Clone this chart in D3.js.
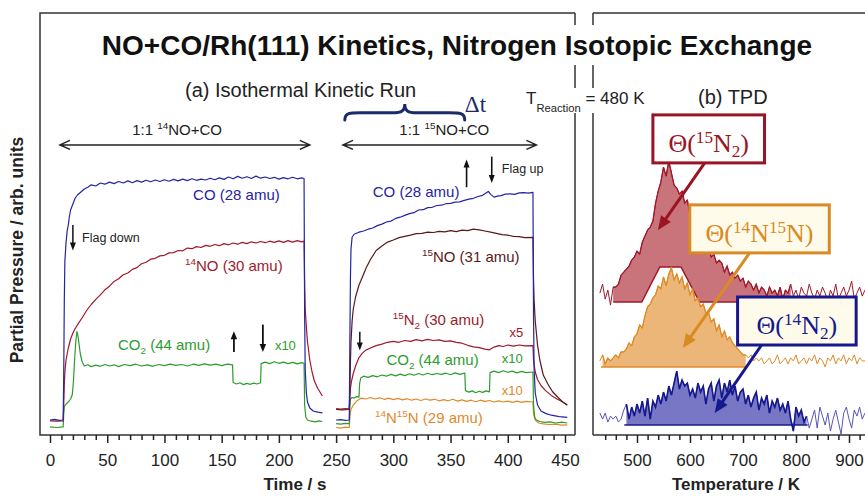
<!DOCTYPE html>
<html>
<head>
<meta charset="utf-8">
<script src="https://cdn.jsdelivr.net/npm/d3@7"></script>
<style>
  body { margin: 0; background: #fff; }
  text { font-family: "Liberation Sans", Arial, sans-serif; fill: #222; }
</style>
</head>
<body>
<div id="chart"></div>
<script>
const width = 865, height = 496;

// ---- (a) isothermal kinetic run : [time / s, signal]
const coRun1 = [[0,5],[4,5.2],[8,4.9],[11.5,5],[12,20],[12.5,45],[13,58],[14,64],[15,68],[16,70],[17,73],[18,75],[20,77],[22,79],[24,80],[27,81],[30,82],[33,82.6],[36,83.4],[40,83],[44,84],[48,83.6],[52,84.3],[56,83.8],[60,84.5],[64,84],[68,84.7],[72,84.1],[76,84.8],[80,84.3],[84,84.9],[88,84.4],[92,85],[96,84.5],[100,85.1],[104,84.6],[108,85.2],[112,84.7],[116,85.3],[120,84.8],[124,85.4],[128,84.9],[132,85.3],[136,85],[140,85.6],[144,85.1],[148,85.7],[152,85.2],[156,86],[160,85.4],[164,86.2],[168,85.6],[172,86.1],[176,85.5],[180,86.3],[184,85.6],[188,86],[192,85.5],[196,85.9],[200,85.3],[204,85.8],[208,85.4],[212,85.9],[216,85.4],[220,85.7],[222,85.5],[222.5,40],[223,22],[224,14],[225,11],[227,9],[230,8],[234,7.6],[238,7.4]];
const no14Run1 = [[0,4.7],[6,4.6],[11.5,4.7],[12,10],[12.5,17],[13,21],[14,25],[15,27],[16,29],[18,32],[20,34],[22,35.5],[25,37.3],[28,39],[32,41.5],[36,43.5],[40,45.2],[44,46.7],[48,48.4],[52,49.6],[56,51.2],[60,52.1],[64,53.4],[68,54],[72,55.2],[76,55.8],[80,57.1],[84,57.6],[88,58.6],[92,58.9],[96,59.7],[100,59.9],[104,60.7],[108,60.8],[112,61.5],[116,61.4],[120,62.3],[124,62.1],[128,62.8],[132,62.5],[136,63.2],[140,62.9],[144,63.5],[148,63.1],[152,63.8],[156,63.4],[160,64],[164,63.6],[168,64.2],[172,63.8],[176,64.4],[180,64],[184,64.5],[188,64.1],[192,64.6],[196,64.2],[200,64.7],[204,64.2],[208,64.8],[212,64.3],[216,64.8],[220,64.4],[222,64.6],[222.5,50],[223,42],[224,36],[225,31],[227,25],[229,21],[231,18],[234,15.5],[238,13]];
const co2Run1 = [[0,2.7],[6,2.5],[11.5,2.7],[12,7],[12.5,9.5],[14,10.3],[16,11],[18,12],[19.5,13.5],[20.5,18],[21.5,25],[22.5,31],[23.5,34.5],[24.5,33],[25.5,30],[26.5,27],[28,24.5],[30,23],[33,23.4],[36,22.8],[40,23.3],[44,22.9],[48,23.5],[52,23],[56,23.4],[60,22.8],[65,23.5],[70,23.1],[75,23.6],[80,23],[85,23.4],[90,22.9],[95,23.5],[100,23.1],[105,23.6],[110,23.2],[115,23.5],[120,23],[125,23.6],[130,23.2],[135,23.7],[140,23.3],[145,23.6],[150,23.1],[155,23.6],[159.5,23.4],[160,17.5],[163,17],[166,17.4],[169,16.8],[172,17.2],[175,16.9],[178,17.3],[181,17],[184,17.4],[184.5,23.8],[188,24.3],[192,23.8],[196,24.4],[200,23.9],[204,24.3],[208,23.8],[212,24.2],[216,23.7],[220,24.1],[222,23.9],[222.5,10],[223.5,6],[225,5],[228,4.6],[232,4.4],[235,4.7],[238,4.5]];

const coRun2 = [[250,5],[254,5.1],[258,4.9],[261.5,5],[262,30],[262.5,52],[263,62],[264,66],[266,67],[270,67.6],[274,68],[278,68.6],[282,69],[286,69.8],[290,70.3],[294,71],[298,71.3],[302,72.2],[306,72.6],[310,73.2],[314,73.8],[318,74.1],[322,75],[326,75.1],[330,75.8],[334,75.9],[338,76.5],[342,76.6],[346,77.1],[350,77.2],[354,77.6],[358,77.7],[362,78.2],[366,78.6],[370,78.9],[374,79.5],[378,79.9],[381,80.7],[383,81.2],[385,80.2],[388,79.3],[391,79.6],[394,79.8],[398,80.3],[402,80.4],[406,80.2],[410,80.7],[414,80.8],[418,80.6],[422,80.9],[422.5,40],[423,22],[424,14],[426,10],[429,8],[433,7.2],[438,6.6],[445,6.1],[452,5.9]];
const no15Run2 = [[250,8.5],[255,8.4],[261.5,8.5],[262,15],[262.5,24],[263,31],[264,38],[265,42],[267,46],[270,50],[273,52.7],[276,55.5],[280,58.5],[285,61.5],[290,63],[295,64.3],[300,65],[305,65.8],[310,66.2],[315,66.6],[320,67.1],[325,67.2],[330,67.6],[335,67.5],[340,67.9],[345,67.7],[350,68.1],[355,67.8],[360,68.3],[365,68.1],[370,68.6],[375,68.4],[380,68],[385,67.6],[390,67.2],[395,66.8],[400,66.6],[405,66.2],[410,66.1],[415,65.8],[422,65.9],[422.5,52],[423,45],[424,38],[426,30],[428,25],[431,20],[435,17],[439,14.5],[444,12.5],[448,11],[452,10]];
const n15n2Run2 = [[250,8.8],[254,8.6],[258,8.8],[261.5,8.7],[262,12],[262.5,15.5],[263.5,18],[265,20.5],[267,23],[270,25.8],[273,27.3],[276,28.3],[280,29],[285,29.8],[290,30.3],[295,30.9],[300,31.2],[305,30.9],[310,31.5],[315,31.2],[320,31.8],[325,31.4],[330,31.9],[335,31.5],[340,31.7],[345,31.2],[350,31.4],[355,30.9],[360,30.6],[365,29.9],[370,29.4],[375,29.1],[380,28.6],[384,28.4],[388,29.3],[392,29.8],[396,29.5],[400,30],[405,29.6],[410,30],[415,29.7],[422,29.8],[422.5,25],[424,21],[426,18.5],[429,16.5],[433,14.8],[438,13.2],[443,12],[448,11],[452,10]];
const co2Run2 = [[250,3.8],[254,3.6],[258,3.9],[261.5,3.8],[262,9],[262.5,12],[264,12.5],[266,12.3],[268,12.8],[270,12.6],[270.5,17],[271.5,19],[274,19.6],[278,19.2],[282,19.8],[286,19.4],[290,20],[294,19.6],[298,20.2],[302,19.7],[306,20.3],[310,19.8],[314,20.4],[318,19.9],[322,20.5],[326,20],[330,20.6],[334,20.1],[338,20.5],[342,20.2],[346,20.6],[350,20.1],[354,20.7],[358,20.2],[362.5,20.6],[363,14.8],[366,14.3],[369,14.7],[372,14.1],[375,14.6],[378,14.2],[381,14.7],[384,14.4],[384.5,20.8],[388,21.3],[392,20.8],[396,21.4],[400,20.9],[404,21.3],[408,20.7],[412,21.2],[416,20.8],[422,21],[422.5,10],[423.5,6],[425,5],[428,4.5],[432,4.2],[437,4.4],[442,4],[447,4.3],[452,4]];
const n14n15Run2 = [[250,2.5],[254,2.3],[258,2.6],[261.5,2.5],[262,6],[263,8.5],[265,10],[268,11.3],[272,12.3],[276,12],[280,12.5],[284,12],[288,12.4],[292,11.9],[296,12.3],[300,11.8],[304,12.2],[308,11.7],[312,12.1],[316,11.6],[320,12],[324,11.5],[328,12],[332,11.6],[336,11.9],[340,11.4],[344,11.8],[348,11.4],[352,11.9],[356,11.3],[360,11.7],[364,11.2],[368,11.6],[372,11.1],[376,11.6],[380,11.2],[384,11.5],[388,11],[392,11.4],[396,11],[400,11.3],[404,10.9],[408,11.3],[412,10.9],[416,11.2],[422,11],[422.5,7],[424,5],[427,4],[431,3.7],[436,3.5],[442,3.6],[447,3.3],[452,3.4]];

// ---- (b) TPD, sampled every 5 K from 430 K
const tpdTemps = d3.range(430, 931, 5);
const tpd15N2 = [3,6,1,4,-1,5,5,6,9,10, 11,12,14,15,17,16,20,22,24,25, 27,33,37,40,45,42,47,43,39,38, 36,37,33,34,29,31,26,24,22,21, 18,19,15,16,13,14,13,10,12,9, 10,8,9,7,8,5,7,6,4,6, 3,5,4,2,5,3,4,2,5,1, 4,3,6,2,4,1,5,3,2,6, 3,1,4,2,5,3,0,4,2,6, 1,3,5,2,4,7,1,3,5,2, 4];
const tpd14N15N = [2,4,1,3,2,3,4,3,5,5, 6,8,7,10,11,14,13,17,20,21, 23,24,27,26,30,27,31,33,29,31, 28,30,26,28,24,26,22,23,20,21, 18,18,15,16,12,14,10,12,9,10, 8,7,6,5,4,4,3,4,2,3, 2,3,1,2,3,1,2,4,1,2, 3,1,3,2,4,1,2,3,1,3, 2,4,1,3,2,0,3,2,4,1, 3,2,4,1,3,2,4,1,3,2, 2];
const tpd14N2 = [4,2,4,1,3,2,3,1,2,5, 7,2,6,3,7,4,8,3,9,2, 8,6,10,7,11,8,13,10,14,18, 12,15,13,14,10,12,9,14,11,13, 7,12,14,8,13,15,9,14,11,15, 10,13,8,11,12,7,10,6,9,11, 5,9,7,10,4,8,6,9,5,7, 4,8,2,-2,6,3,5,1,3,-1, 2,5,-1,6,3,0,4,-2,2,5, 1,-3,4,6,2,-1,5,3,6,2, 4];

const timeMajor = d3.range(0, 451, 50);
const tempMajor = d3.range(500, 901, 100);

const svg = d3.select("#chart").append("svg")
    .attr("width", width).attr("height", height)
    .style("background", "#fff");

const xK = d3.scaleLinear().domain([0, 450]).range([50, 565]);
const xT = d3.scaleLinear().domain([500, 900]).range([637, 849]);
const y = d3.scaleLinear().domain([0, 100]).range([435, 135]);

const C = {
    blue: "#2424a4", red: "#a0192b", brown: "#5a1818", green: "#2c9c2c", orange: "#df8a28",
    navy: "#16188e", boxRed: "#9a1422", boxOrange: "#d98a22"
};

// frames (gaps where the title / T_reaction pass between the panels)
const frame = svg.append("g").attr("fill", "none").attr("stroke", "#333").attr("stroke-width", 1.5);
frame.append("path").attr("d", "M575,13H40V435H575M593,13H866M593,435H866");
[[13, 25], [65, 88], [113, 435]].forEach(([a, b]) => {
    frame.append("path").attr("d", `M575,${a}V${b}M593,${a}V${b}`);
});

// axes
function bottomAxis(scale, values, major, fmt) {
    const g = svg.append("g").attr("transform", "translate(0,435)")
        .call(d3.axisBottom(scale).tickValues(values).tickSize(5).tickFormat(d => major.includes(d) ? fmt(d) : ""));
    g.select(".domain").remove();
    g.selectAll(".tick line").attr("stroke", "#222").attr("stroke-width", 1.5)
        .attr("y2", d => major.includes(d) ? 8 : 5);
    g.selectAll(".tick text").attr("y", 31).attr("dy", null)
        .attr("font-size", 17).attr("font-family", "Liberation Sans, Arial, sans-serif").attr("fill", "#222");
}
bottomAxis(xK, d3.range(0, 451, 10), timeMajor, d => d);
bottomAxis(xT, d3.range(440, 921, 20), tempMajor, d => d);

// helper for text with super/subscripts
function rich(g, x, yy, segs, size, color, family) {
    const t = g.append("text").attr("x", x).attr("y", yy).attr("font-size", size)
        .style("fill", color || "#222");
    if (family) t.style("font-family", family);
    let shift = 0;
    segs.forEach(([str, kind, off]) => {
        const target = kind === "sup" ? -(off || 0.4 * size) : kind === "sub" ? (off || 0.28 * size) : 0;
        t.append("tspan").attr("dy", target - shift).attr("font-size", kind ? size * 0.66 : size).text(str);
        shift = target;
    });
    return t;
}

function arrow(g, x1, y1, x2, y2, color, w, hl, hw) {
    const a = Math.atan2(y2 - y1, x2 - x1);
    const bx = x2 - hl * Math.cos(a), by = y2 - hl * Math.sin(a);
    const px = -Math.sin(a) * hw / 2, py = Math.cos(a) * hw / 2;
    g.append("line").attr("x1", x1).attr("y1", y1).attr("x2", bx + Math.cos(a)).attr("y2", by + Math.sin(a))
        .attr("stroke", color).attr("stroke-width", w);
    g.append("path").attr("d", `M${x2},${y2}L${bx + px},${by + py}L${bx - px},${by - py}Z`).attr("fill", color);
}

// ---- kinetic traces
const gK = svg.append("g");
const kLine = d3.line().x(d => xK(d[0])).y(d => y(d[1]));
const kineticSeries = [
    { data: co2Run1, color: C.green }, { data: no14Run1, color: C.red }, { data: coRun1, color: C.blue },
    { data: n14n15Run2, color: C.orange }, { data: co2Run2, color: C.green }, { data: n15n2Run2, color: C.red },
    { data: no15Run2, color: C.brown }, { data: coRun2, color: C.blue }
];
kineticSeries.forEach(s => {
    gK.append("path").attr("d", kLine(s.data)).attr("fill", "none")
        .attr("stroke", s.color).attr("stroke-width", 1.2).attr("stroke-linejoin", "round");
});

// labels in panel (a)
rich(gK, xK(125), y(78.3), [["CO (28 amu)"]], 15, C.blue);
rich(gK, xK(118), y(54.7), [["14", "sup"], ["NO (30 amu)"]], 15, C.red);
rich(gK, xK(59.4), y(28.3), [["CO"], ["2", "sub"], [" (44 amu)"]], 15, C.green);
rich(gK, xK(196.5), y(28.3), [["x10"]], 13, C.green);
rich(gK, xK(282), y(79.3), [["CO (28 amu)"]], 15, C.blue);
rich(gK, xK(325), y(57.7), [["15", "sup"], ["NO (31 amu)"]], 15, C.brown);
rich(gK, xK(299.5), y(36.7), [["15", "sup"], ["N"], ["2", "sub"], [" (30 amu)"]], 15, C.red);
rich(gK, xK(401.5), y(32.7), [["x5"]], 13, C.red);
rich(gK, xK(294), y(23.3), [["CO"], ["2", "sub"], [" (44 amu)"]], 15, C.green);
rich(gK, xK(394.8), y(24), [["x10"]], 13, C.green);
rich(gK, xK(394.8), y(13.3), [["x10"]], 13, C.orange);
rich(gK, xK(284), y(4), [["14", "sup"], ["N"], ["15", "sup"], ["N (29 amu)"]], 15, C.orange);

// flag arrows
arrow(gK, xK(20), y(70), xK(20), y(61.5), "#111", 1.5, 8, 6);
rich(gK, xK(28), y(64.3), [["Flag down"]], 12.5);
arrow(gK, xK(160.7), y(27.7), xK(160.7), y(34.6), "#111", 1.8, 8, 6.5);
arrow(gK, xK(186), y(36.8), xK(186), y(27.7), "#111", 1.8, 8, 6.5);
arrow(gK, xK(270.7), y(34.4), xK(270.7), y(28.2), "#111", 1.5, 8, 6);
arrow(gK, xK(364), y(82.6), xK(364), y(91.8), "#111", 1.6, 8, 6);
arrow(gK, xK(386), y(92.8), xK(386), y(84), "#111", 1.6, 8, 6);
rich(gK, xK(394.8), y(87.3), [["Flag up"]], 12.5);

// gas-exposure double arrows
function dblArrow(g, t1, t2, v) {
    const x1 = xK(t1), x2 = xK(t2), yy = y(v);
    g.append("path").attr("d", `M${x1},${yy}H${x2}M${x1 + 10},${yy - 4.5}L${x1},${yy}L${x1 + 10},${yy + 4.5}M${x2 - 10},${yy - 4.5}L${x2},${yy}L${x2 - 10},${yy + 4.5}`)
        .attr("fill", "none").attr("stroke", "#222").attr("stroke-width", 1.5);
}
dblArrow(gK, 8.7, 227, 96.7);
dblArrow(gK, 256, 425, 96.7);
rich(gK, xK(111), y(100), [["1:1 "], ["14", "sup", 6], ["NO+CO"]], 15).attr("text-anchor", "middle");
rich(gK, xK(344.5), y(100), [["1:1 "], ["15", "sup", 6], ["NO+CO"]], 15).attr("text-anchor", "middle");

// brace + delta t
const bx0 = xK(257.6), bx1 = xK(362.4), bxm = (bx0 + bx1) / 2;
const byEnd = y(105), byMid = y(107.4), byTip = y(110.3);
gK.append("path")
    .attr("d", `M${bx0},${byEnd}C${bx0},${byMid - 1} ${bx0 + 6},${byMid} ${bx0 + 22},${byMid}L${bxm - 12},${byMid}C${bxm - 3},${byMid} ${bxm},${byMid - 2} ${bxm},${byTip}C${bxm},${byMid - 2} ${bxm + 3},${byMid} ${bxm + 12},${byMid}L${bx1 - 22},${byMid}C${bx1 - 6},${byMid} ${bx1},${byMid - 1} ${bx1},${byEnd}`)
    .attr("fill", "none").attr("stroke", "#1b2a6b").attr("stroke-width", 3).attr("stroke-linecap", "round");
rich(gK, xK(362.5), y(107.7), [["Δt"]], 23, "#1b2a6b", "Liberation Serif, Times New Roman, serif");

// ---- TPD traces
const gT = svg.append("g");
const tpd = tpdTemps.map((T, i) => ({ T, r: tpd15N2[i], o: tpd14N15N[i], b: tpd14N2[i] }));
const tpdLayout = [
    { key: "r", offset: 44.3, from: 455, to: 790, line: C.red, thin: C.red, fill: "#c9737b" },
    { key: "o", offset: 22.7, from: 432, to: 708, line: C.orange, thin: C.orange, fill: "#ebb677" },
    { key: "b", offset: 3.3, from: 476, to: 822, line: C.navy, thin: "#5656b8", fill: "#7777c6" }
];
const notch = [[509, 0], [543, 11.7], [583, 11.7], [618, 0]];

tpdLayout.forEach(L => {
    const inFill = tpd.filter(d => d.T >= L.from && d.T <= L.to);
    gT.append("path")
        .attr("d", d3.area().x(d => xT(d.T)).y0(y(L.offset)).y1(d => y(L.offset + Math.max(0, d[L.key])))(inFill))
        .attr("fill", L.fill);
    gT.append("path").attr("d", d3.line().x(d => xT(d.T)).y(d => y(L.offset + d[L.key]))(tpd))
        .attr("fill", "none").attr("stroke", L.thin).attr("stroke-width", 1);
    gT.append("path").attr("d", d3.line().x(d => xT(d.T)).y(d => y(L.offset + d[L.key]))(inFill))
        .attr("fill", "none").attr("stroke", L.line).attr("stroke-width", L.key === "b" ? 1.6 : 1.2);
    if (L.key === "r") {
        gT.append("path").attr("d", d3.line().x(d => xT(d[0])).y(d => y(L.offset + d[1]))(notch) + "Z")
            .attr("fill", "#fff");
        const outline = [[L.from, 0], ...notch, [L.to, 0]];
        gT.append("path").attr("d", d3.line().x(d => xT(d[0])).y(d => y(L.offset + d[1]))(outline))
            .attr("fill", "none").attr("stroke", L.line).attr("stroke-width", 1.5);
    } else {
        gT.append("path").attr("d", `M${xT(L.from)},${y(L.offset)}H${xT(L.to)}`)
            .attr("stroke", L.line).attr("stroke-width", 1.5);
    }
});

// labelled boxes with arrows
const serif = "Liberation Serif, Times New Roman, serif";
function labelBox(t0, t1, v0, v1, stroke, fill, segs) {
    const x0 = xT(t0), x1 = xT(t1), y0 = y(v0), y1 = y(v1);
    gT.append("rect").attr("x", x0).attr("y", y0).attr("width", x1 - x0).attr("height", y1 - y0)
        .attr("fill", fill).attr("stroke", stroke).attr("stroke-width", 3);
    rich(gT, (x0 + x1) / 2, y1 - 11, segs, 26, stroke, serif).attr("text-anchor", "middle");
}
labelBox(530, 740.6, 106.7, 90.7, C.boxRed, "#fff", [["Θ("], ["15", "sup", 9], ["N"], ["2", "sub", 5], [")"]]);
arrow(gT, xT(627.8), y(90.7), xT(539.5), y(68.3), C.boxRed, 3, 14, 12);
labelBox(599.6, 862.8, 76.7, 60.7, C.boxOrange, "#fffbea", [["Θ("], ["14", "sup", 9], ["N"], ["15", "sup", 9], ["N)"]]);
arrow(gT, xT(712.4), y(60.7), xT(586.5), y(29), C.boxOrange, 3, 14, 12);
labelBox(689.8, 913.5, 46, 30, C.navy, "#fffbea", [["Θ("], ["14", "sup", 9], ["N"], ["2", "sub", 5], [")"]]);
arrow(gT, xT(735), y(30), xT(646.6), y(7.3), C.navy, 3, 14, 12);

// ---- titles
svg.append("text").attr("x", 457).attr("y", 55).attr("text-anchor", "middle")
    .attr("font-size", 28).attr("font-weight", "bold").style("fill", "#111")
    .text("NO+CO/Rh(111) Kinetics, Nitrogen Isotopic Exchange");
svg.append("text").attr("x", 185).attr("y", 97).attr("font-size", 20).text("(a) Isothermal Kinetic Run");
svg.append("text").attr("x", 698).attr("y", 104).attr("font-size", 20).text("(b) TPD");
rich(svg, 526, 104, [["T"], ["Reaction", "sub", 8], [" = 480 K"]], 17);

svg.append("text").attr("x", 295).attr("y", 490).attr("text-anchor", "middle")
    .attr("font-size", 17).attr("font-weight", "bold").text("Time / s");
svg.append("text").attr("x", 736).attr("y", 490).attr("text-anchor", "middle")
    .attr("font-size", 17).attr("font-weight", "bold").text("Temperature / K");
svg.append("text").attr("transform", "translate(23,250) rotate(-90)").attr("text-anchor", "middle")
    .attr("font-size", 17.5).attr("font-weight", "bold").text("Partial Pressure / arb. units");
</script>
</body>
</html>
